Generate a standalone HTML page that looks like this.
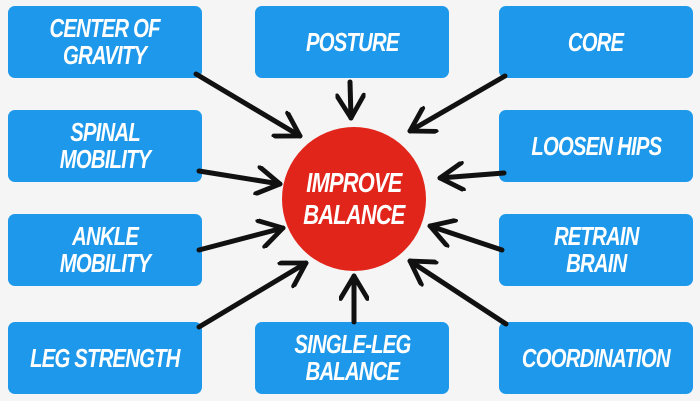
<!DOCTYPE html>
<html><head><style>
body{margin:0;width:700px;height:401px;background:#f5f5f5;position:relative;overflow:hidden}
.b{position:absolute;width:194px;height:72px;background:#1e98ea;border-radius:7px;color:#fff;display:flex;align-items:center;justify-content:center;text-align:center;font-family:"Liberation Sans",sans-serif;font-weight:bold;font-style:italic;font-size:26px;line-height:27px;letter-spacing:-1px}
.b span,.c span{display:inline-block;transform:scaleX(0.78);white-space:nowrap}
.c{position:absolute;left:282px;top:127px;width:144px;height:144px;border-radius:50%;background:#e1251b;color:#fff;display:flex;align-items:center;justify-content:center;text-align:center;font-family:"Liberation Sans",sans-serif;font-weight:bold;font-style:italic;font-size:28px;line-height:32px;letter-spacing:-1px}
svg{position:absolute;left:0;top:0}
</style></head><body>
<div class="b" style="left:8px;top:6px"><span>CENTER OF<br>GRAVITY</span></div>
<div class="b" style="left:255px;top:6px"><span>POSTURE</span></div>
<div class="b" style="left:499px;top:6px"><span>CORE</span></div>
<div class="b" style="left:8px;top:110px"><span>SPINAL<br>MOBILITY</span></div>
<div class="b" style="left:499px;top:110px"><span>LOOSEN HIPS</span></div>
<div class="b" style="left:8px;top:214px"><span>ANKLE<br>MOBILITY</span></div>
<div class="b" style="left:499px;top:214px"><span>RETRAIN<br>BRAIN</span></div>
<div class="b" style="left:8px;top:322px"><span>LEG STRENGTH</span></div>
<div class="b" style="left:255px;top:322px"><span>SINGLE-LEG<br>BALANCE</span></div>
<div class="b" style="left:499px;top:322px"><span>COORDINATION</span></div>
<div class="c"><span>IMPROVE<br>BALANCE</span></div>
<svg width="700" height="401" fill="none" stroke="#111" stroke-width="5" stroke-linecap="round" stroke-linejoin="round">
<defs><marker id="m" viewBox="0 0 20 20" refX="18" refY="10" markerWidth="6" markerHeight="6" markerUnits="strokeWidth" orient="auto"><polyline points="3,1 18,10 3,19" fill="none" stroke="#111" stroke-width="3.2"/></marker></defs>
<g marker-end="url(#m)">
<line x1="196" y1="74" x2="300" y2="136"/>
<line x1="350" y1="82" x2="351" y2="118"/>
<line x1="505" y1="76" x2="410" y2="131"/>
<line x1="199" y1="171" x2="280" y2="184"/>
<line x1="504" y1="173" x2="440" y2="178"/>
<line x1="199" y1="250" x2="283" y2="228"/>
<line x1="199" y1="327" x2="306" y2="263"/>
<line x1="354" y1="322" x2="354" y2="276"/>
<line x1="502" y1="250" x2="430" y2="226"/>
<line x1="506" y1="324" x2="410" y2="261"/>
</g>
</svg>
</body></html>
